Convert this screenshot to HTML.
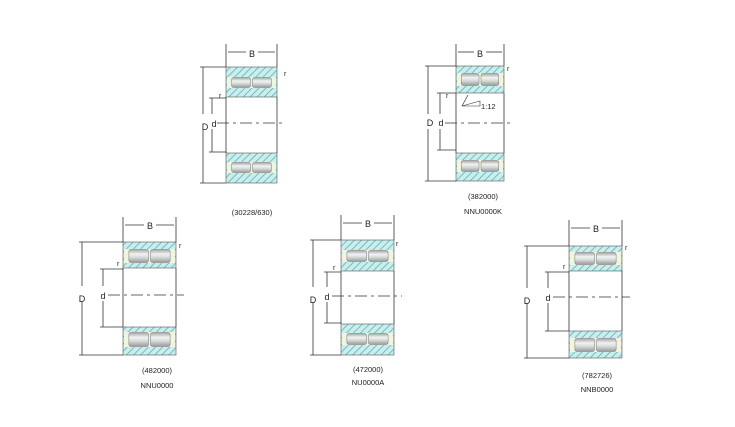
<!DOCTYPE html>
<html><head><meta charset="utf-8"><style>
html,body{margin:0;padding:0;background:#fff;}
svg{display:block;font-family:"Liberation Sans",sans-serif;}
</style></head><body>
<svg id="s" width="735" height="427" viewBox="0 0 735 427" xmlns="http://www.w3.org/2000/svg">
<defs>
<pattern id="h" width="5" height="5" patternUnits="userSpaceOnUse" patternTransform="rotate(45)">
<rect width="5" height="5" fill="#c8eeee"/><line x1="0" y1="0" x2="0" y2="5" stroke="#5aa6a8" stroke-width="1.4"/>
</pattern>
<linearGradient id="g" x1="0" y1="0" x2="0" y2="1">
<stop offset="0" stop-color="#a0a5a6"/><stop offset="0.35" stop-color="#f2f3f3"/><stop offset="0.6" stop-color="#d8dbdb"/><stop offset="1" stop-color="#959a9a"/>
</linearGradient>
</defs>
<g id="shapes"></g>
<g font-size="9" fill="#222">
<text x="252" y="57" text-anchor="middle">B</text><text x="284" y="76" font-size="7">r</text><text x="219" y="98" font-size="7">r</text>
<text x="205" y="130" text-anchor="middle">D</text><text x="214" y="127" text-anchor="middle">d</text>
<text x="252" y="215" text-anchor="middle" font-size="7.5">(30228/630)</text>

<text x="480" y="57" text-anchor="middle">B</text><text x="507" y="71" font-size="7">r</text><text x="446" y="98" font-size="7">r</text>
<text x="430" y="126" text-anchor="middle">D</text><text x="441" y="126" text-anchor="middle">d</text>
<text x="481" y="109" font-size="7.5">1:12</text>
<text x="483" y="199" text-anchor="middle" font-size="7.5">(382000)</text><text x="483" y="214" text-anchor="middle" font-size="7.5">NNU0000K</text>

<text x="150" y="229" text-anchor="middle">B</text><text x="179" y="248" font-size="7">r</text><text x="117" y="266" font-size="7">r</text>
<text x="82" y="302" text-anchor="middle">D</text><text x="103" y="299" text-anchor="middle">d</text>
<text x="157" y="373" text-anchor="middle" font-size="7.5">(482000)</text><text x="157" y="388" text-anchor="middle" font-size="7.5">NNU0000</text>

<text x="368" y="227" text-anchor="middle">B</text><text x="396" y="246" font-size="7">r</text><text x="333" y="270" font-size="7">r</text>
<text x="313" y="303" text-anchor="middle">D</text><text x="327" y="300" text-anchor="middle">d</text>
<text x="368" y="372" text-anchor="middle" font-size="7.5">(472000)</text><text x="368" y="385" text-anchor="middle" font-size="7.5">NU0000A</text>

<text x="596" y="232" text-anchor="middle">B</text><text x="625" y="250" font-size="7">r</text><text x="563" y="269" font-size="7">r</text>
<text x="527" y="304" text-anchor="middle">D</text><text x="548" y="301" text-anchor="middle">d</text>
<text x="597" y="378" text-anchor="middle" font-size="7.5">(782726)</text><text x="597" y="392" text-anchor="middle" font-size="7.5">NNB0000</text>
</g>
</svg>
<script>
var g=document.getElementById('shapes'),o='';
function ln(a,b,c,d,ex){o+='<line x1="'+a+'" y1="'+b+'" x2="'+c+'" y2="'+d+'" stroke="#333" stroke-width="0.8" '+(ex||'')+'/>';}
function rc(x,y,w,h,f,ex){o+='<rect x="'+x+'" y="'+y+'" width="'+w+'" height="'+h+'" fill="'+f+'" '+(ex||'')+'/>';}
function row(L,R,a,b,c,d){
 rc(L,a,R-L,d-a,'url(#h)','stroke="#555" stroke-width="0.6"');
 rc(L+1,b,R-L-2,c-b,'#f0f5e0');
 var w=(R-L)*0.37,m=(L+R)/2;
 rc(m-w-1,b+0.5,w,c-b-1,'url(#g)','rx="2" stroke="#777" stroke-width="0.5"');
 rc(m+1,b+0.5,w,c-b-1,'url(#g)','rx="2" stroke="#777" stroke-width="0.5"');
}
function br(L,R,top,bot,T,Bm,cy,Bx,Dx,dx,d1,d2,By){
 row(L,R,T[0],T[1],T[2],T[3]);row(L,R,Bm[0],Bm[1],Bm[2],Bm[3]);
 ln(L,T[3],L,Bm[0]);ln(R,T[3],R,Bm[0]);
 ln(L,By-8,L,top);ln(R,By-8,R,top);
 ln(L+2,By,Bx-6,By);ln(Bx+6,By,R-2,By);
 ln(Dx-3,top,L,top);ln(Dx-3,bot,L,bot);ln(Dx,top,Dx,cy-9);ln(Dx,cy+6,Dx,bot);
 ln(dx-3,d1,L,d1);ln(dx-3,d2,L,d2);ln(dx,d1,dx,cy-9);ln(dx,cy+6,dx,d2);
 ln(dx+5,cy,R+8,cy,'stroke-dasharray="12,4,3,4"');
}
br(226,277,67,183,[67,77,88,97],[153,162,173,183],123,252,203,212,98,152,52);
br(456,504,66,181,[66,73,86,93],[153,160,172,181],123,480,428,440,93,150,52);
br(123,176,242,355,[242,249,263,268],[327,332,347,355],295,150,82,103,269,327,225);
br(341,394,240,355,[240,250,262,271],[324,333,345,355],296,368,313,327,272,323,223);
br(569,622,246,358,[246,252,265,271],[331,338,352,358],297,596,527,548,272,331,228);
o+='<line x1="462" y1="106" x2="468" y2="95" stroke="#333" stroke-width="0.7"/><path d="M462 106 L480 106 L480 101 Z" fill="none" stroke="#333" stroke-width="0.6"/>';
g.innerHTML=o;
</script>
</body></html>
